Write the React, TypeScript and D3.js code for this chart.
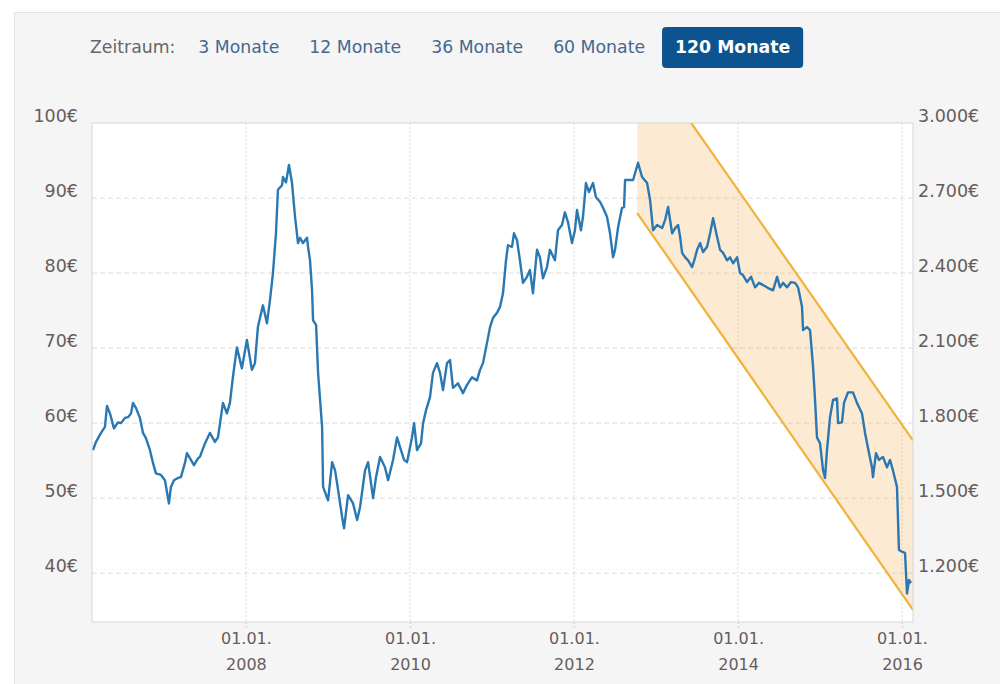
import { useRef, useEffect } from "react";
import * as d3 from "d3";

const periodLabel = "Zeitraum:";
const periods = ["3 Monate", "12 Monate", "36 Monate", "60 Monate", "120 Monate"];
const activePeriod = "120 Monate";

// fractional years (2008.5 = mid 2008) and closing prices in €
const years = [
  2006.134, 2006.171, 2006.232, 2006.280, 2006.305, 2006.341, 2006.390, 2006.439, 2006.476, 2006.524,
  2006.561, 2006.598, 2006.622, 2006.659, 2006.707, 2006.744, 2006.780, 2006.829, 2006.866, 2006.902,
  2006.963, 2007.012, 2007.061, 2007.085, 2007.122, 2007.171, 2007.207, 2007.256, 2007.280, 2007.329,
  2007.366, 2007.415, 2007.439, 2007.500, 2007.561, 2007.622, 2007.659, 2007.720, 2007.768, 2007.805,
  2007.841, 2007.890, 2007.951, 2008.012, 2008.073, 2008.110, 2008.146, 2008.207, 2008.256, 2008.293,
  2008.329, 2008.366, 2008.390, 2008.439, 2008.451, 2008.488, 2008.524, 2008.561, 2008.598, 2008.634,
  2008.659, 2008.695, 2008.744, 2008.756, 2008.780, 2008.805, 2008.817, 2008.854, 2008.878, 2008.927,
  2008.939, 2009.000, 2009.049, 2009.085, 2009.122, 2009.171, 2009.195, 2009.244, 2009.305, 2009.354,
  2009.390, 2009.451, 2009.488, 2009.549, 2009.585, 2009.634, 2009.695, 2009.732, 2009.793, 2009.841,
  2009.878, 2009.927, 2009.963, 2010.024, 2010.049, 2010.085, 2010.134, 2010.159, 2010.195, 2010.244,
  2010.280, 2010.329, 2010.366, 2010.402, 2010.451, 2010.488, 2010.524, 2010.585, 2010.646, 2010.695,
  2010.756, 2010.817, 2010.854, 2010.890, 2010.939, 2010.976, 2011.012, 2011.061, 2011.098, 2011.134,
  2011.171, 2011.195, 2011.244, 2011.268, 2011.305, 2011.341, 2011.378, 2011.427, 2011.463, 2011.500,
  2011.549, 2011.585, 2011.622, 2011.671, 2011.707, 2011.768, 2011.805, 2011.854, 2011.890, 2011.927,
  2011.976, 2012.012, 2012.037, 2012.085, 2012.110, 2012.146, 2012.183, 2012.232, 2012.268, 2012.317,
  2012.354, 2012.402, 2012.439, 2012.476, 2012.500, 2012.537, 2012.585, 2012.610, 2012.622, 2012.720,
  2012.780, 2012.829, 2012.890, 2012.927, 2012.963, 2013.012, 2013.073, 2013.110, 2013.146, 2013.195,
  2013.232, 2013.268, 2013.293, 2013.317, 2013.354, 2013.390, 2013.439, 2013.476, 2013.500, 2013.537,
  2013.573, 2013.622, 2013.659, 2013.695, 2013.744, 2013.780, 2013.817, 2013.866, 2013.902, 2013.939,
  2013.988, 2014.024, 2014.061, 2014.110, 2014.159, 2014.207, 2014.256, 2014.305, 2014.366, 2014.427,
  2014.476, 2014.512, 2014.549, 2014.598, 2014.646, 2014.695, 2014.732, 2014.780, 2014.793, 2014.841,
  2014.878, 2014.915, 2014.939, 2014.963, 2015.000, 2015.037, 2015.061, 2015.085, 2015.122, 2015.159,
  2015.207, 2015.220, 2015.268, 2015.293, 2015.341, 2015.402, 2015.451, 2015.512, 2015.549, 2015.598,
  2015.634, 2015.646, 2015.683, 2015.720, 2015.768, 2015.817, 2015.854, 2015.890, 2015.939, 2015.963,
  2016.012, 2016.037, 2016.061, 2016.085, 2016.110,
];
const prices = [
  56.4, 57.5, 58.7, 59.5, 62.3, 61.3, 59.3, 60.1, 60.0, 60.7,
  60.8, 61.3, 62.7, 62.0, 60.7, 58.7, 58.0, 56.4, 54.7, 53.3,
  53.1, 52.4, 49.3, 51.5, 52.4, 52.7, 52.8, 54.7, 56.0, 55.1,
  54.4, 55.3, 55.5, 57.3, 58.7, 57.5, 58.1, 62.7, 61.3, 62.7,
  66.1, 70.1, 67.3, 71.1, 67.1, 68.0, 72.8, 75.7, 73.3, 76.4,
  80.0, 85.3, 91.1, 91.7, 92.8, 92.1, 94.4, 92.0, 87.5, 84.0,
  84.7, 84.0, 84.7, 83.5, 81.7, 77.7, 73.7, 73.1, 66.7, 59.5,
  51.5, 49.7, 54.8, 53.7, 51.1, 47.5, 46.0, 50.4, 49.3, 47.1,
  48.8, 53.7, 54.8, 50.0, 52.8, 55.5, 54.1, 52.4, 55.1, 58.1,
  56.8, 55.1, 54.8, 58.1, 60.0, 56.4, 57.3, 60.0, 61.7, 63.5,
  66.7, 68.0, 66.7, 64.4, 68.0, 68.4, 64.7, 65.3, 64.0, 65.1,
  66.1, 65.7, 67.1, 68.0, 70.7, 72.8, 74.0, 74.7, 75.5, 77.3,
  81.7, 83.7, 83.5, 85.3, 84.4, 81.7, 78.7, 79.5, 80.4, 77.3,
  83.1, 82.1, 79.3, 80.8, 83.1, 81.7, 85.7, 86.4, 88.1, 86.8,
  84.0, 85.7, 88.4, 85.7, 87.5, 92.0, 90.8, 92.0, 90.1, 89.5,
  88.7, 87.5, 85.3, 82.1, 83.1, 86.1, 88.7, 88.8, 92.4, 92.4,
  94.7, 92.8, 92.0, 89.7, 85.7, 86.4, 86.0, 87.1, 88.8, 85.3,
  86.0, 86.4, 84.8, 82.7, 82.1, 81.7, 80.8, 82.1, 83.1, 84.0,
  82.8, 83.5, 85.3, 87.3, 84.8, 83.1, 82.7, 81.7, 82.1, 81.3,
  82.1, 80.0, 79.7, 78.8, 79.5, 78.1, 78.7, 78.4, 78.0, 77.7,
  79.5, 78.1, 78.7, 78.1, 78.8, 78.7, 78.1, 75.5, 72.4, 72.8,
  72.4, 67.5, 63.1, 58.1, 57.3, 53.7, 52.7, 56.4, 60.8, 63.1,
  63.3, 60.0, 60.1, 62.7, 64.1, 64.1, 62.7, 61.3, 58.7, 56.0,
  54.1, 52.8, 56.0, 55.1, 55.5, 54.1, 55.1, 53.7, 51.5, 43.1,
  42.8, 42.7, 37.3, 39.1, 38.7,
];

const domainYears = [2006.122, 2016.134];
const valueDomain = [33.5, 100];
const leftTicks = [40, 50, 60, 70, 80, 90, 100];
const rightFactor = 30;
const rightTicks = [1200, 1500, 1800, 2100, 2400, 2700, 3000];
const xTickYears = [2008, 2010, 2012, 2014, 2016];

// downward trend channel
const channelYears = [2012.77, 2016.134];
const channelLow = [88.0, 35.1];
const channelHigh = [110.3, 57.7];

function yearToDate(t: number) {
  const y = Math.floor(t);
  const a = Date.UTC(y, 0, 1);
  const b = Date.UTC(y + 1, 0, 1);
  return new Date(a + (t - y) * (b - a));
}

const de = d3.formatLocale({ decimal: ",", thousands: ".", grouping: [3], currency: ["", "€"] });
const fmtThousands = de.format(",.0f");

export default function App() {
  const ref = useRef<SVGSVGElement>(null);
  useEffect(() => {
    if (!ref.current) return;
    const svg = d3.select(ref.current);
    svg.selectAll("*").remove();
    const W = 1000, H = 684;
    const plot = { left: 92, right: 913, top: 123, bottom: 622 };
    const font = "'DejaVu Sans', Verdana, sans-serif";

    svg.append("rect").attr("width", W).attr("height", H).attr("fill", "#fff");
    svg.append("rect").attr("x", 14.5).attr("y", 12.5).attr("width", W - 14).attr("height", H - 12)
      .attr("fill", "#f5f5f5").attr("stroke", "#e2e2e2");

    // period selector
    const bar = svg.append("g").attr("font-family", font).attr("font-size", 17.3);
    let cx = 90;
    const lab = bar.append("text").attr("x", cx).attr("y", 53).attr("fill", "#6a6464").text(periodLabel);
    cx += (lab.node() as SVGTextElement).getComputedTextLength() + 23;
    periods.forEach((p, i) => {
      if (i > 0) cx += 7;
      const active = p === activePeriod;
      const btn = bar.append("g");
      const t = btn.append("text").attr("x", cx).attr("y", 53)
        .attr("fill", active ? "#fff" : "#44688f").attr("font-weight", active ? "bold" : "normal").text(p);
      const len = (t.node() as SVGTextElement).getComputedTextLength();
      if (active) {
        btn.insert("rect", "text").attr("x", cx - 13).attr("y", 27).attr("width", len + 26).attr("height", 41)
          .attr("rx", 4).attr("fill", "#0c5390");
      }
      cx += len + 23;
    });

    const x = d3.scaleUtc().domain(domainYears.map(yearToDate)).range([plot.left, plot.right]);
    const y = d3.scaleLinear().domain(valueDomain).range([plot.bottom, plot.top]);
    const yR = d3.scaleLinear().domain(valueDomain.map(v => v * rightFactor)).range([plot.bottom, plot.top]);

    svg.append("rect").attr("x", plot.left).attr("y", plot.top)
      .attr("width", plot.right - plot.left).attr("height", plot.bottom - plot.top).attr("fill", "#fff");

    svg.append("defs").append("clipPath").attr("id", "plotclip").append("rect")
      .attr("x", plot.left).attr("y", plot.top).attr("width", plot.right - plot.left).attr("height", plot.bottom - plot.top);

    // grid
    const grid = svg.append("g");
    grid.selectAll(".hg").data(leftTicks.filter(v => v < valueDomain[1])).join("line")
      .attr("x1", plot.left).attr("x2", plot.right).attr("y1", d => y(d)).attr("y2", d => y(d))
      .attr("stroke", "#dcdcdc").attr("stroke-dasharray", "5,3");
    grid.selectAll(".vg").data(xTickYears).join("line")
      .attr("x1", d => x(yearToDate(d))).attr("x2", d => x(yearToDate(d)))
      .attr("y1", plot.top).attr("y2", plot.bottom)
      .attr("stroke", "#dcdcdc").attr("stroke-dasharray", "2,2");

    // channel
    const ch = channelYears.map((t, i) => ({ date: yearToDate(t), lo: channelLow[i], hi: channelHigh[i] }));
    const cg = svg.append("g").attr("clip-path", "url(#plotclip)");
    cg.append("path").datum(ch)
      .attr("d", d3.area<any>().x(d => x(d.date)).y0(d => y(d.lo)).y1(d => y(d.hi)))
      .attr("fill", "rgba(247,170,80,0.25)");
    cg.append("path").datum(ch).attr("d", d3.line<any>().x(d => x(d.date)).y(d => y(d.lo)))
      .attr("fill", "none").attr("stroke", "#f0b23a").attr("stroke-width", 2.2);
    cg.append("path").datum(ch).attr("d", d3.line<any>().x(d => x(d.date)).y(d => y(d.hi)))
      .attr("fill", "none").attr("stroke", "#f0b23a").attr("stroke-width", 2.2);

    // price line
    const series = years.map((t, i) => ({ date: yearToDate(t), v: prices[i] }));
    cg.append("path").datum(series)
      .attr("d", d3.line<any>().x(d => x(d.date)).y(d => y(d.v)))
      .attr("fill", "none").attr("stroke", "#2a78b2").attr("stroke-width", 2.4).attr("stroke-linejoin", "round");

    // border
    svg.append("rect").attr("x", plot.left).attr("y", plot.top)
      .attr("width", plot.right - plot.left).attr("height", plot.bottom - plot.top)
      .attr("fill", "none").attr("stroke", "#d6d6d6");

    // axes
    const styleAxis = (g: any, size: number) => {
      g.select(".domain").remove();
      g.selectAll("text").attr("fill", "#675c5c").attr("font-size", size).attr("font-family", font);
    };
    svg.append("g").attr("transform", `translate(78,0)`)
      .call(d3.axisLeft(y).tickValues(leftTicks).tickSize(0).tickPadding(0).tickFormat(d => `${d}€`))
      .call(styleAxis, 17.5).selectAll("text").attr("dy", "-0.1em");
    svg.append("g").attr("transform", `translate(918,0)`)
      .call(d3.axisRight(yR).tickValues(rightTicks).tickSize(0).tickPadding(0).tickFormat(d => `${fmtThousands(d as number)}€`))
      .call(styleAxis, 17.5).selectAll("text").attr("dy", "-0.1em");

    const xa = svg.append("g").attr("transform", `translate(0,${plot.bottom})`)
      .call(d3.axisBottom(x).tickValues(xTickYears.map(yearToDate)).tickSize(8).tickPadding(8).tickFormat(() => ""))
      .call(styleAxis, 16);
    xa.selectAll(".tick line").attr("stroke", "#cfcfcf").attr("stroke-dasharray", "2,2");
    xa.selectAll(".tick text").each(function (d: any) {
      const t = d3.select(this);
      t.attr("dy", null).attr("y", 22);
      t.append("tspan").attr("x", 0).text("01.01.");
      t.append("tspan").attr("x", 0).attr("dy", "1.6em").text(String(d.getUTCFullYear()));
    });
  }, []);

  return (
    <div style={{ position: "absolute", left: 0, top: 0 }}>
      <svg ref={ref} width={1000} height={684} />
    </div>
  );
}
